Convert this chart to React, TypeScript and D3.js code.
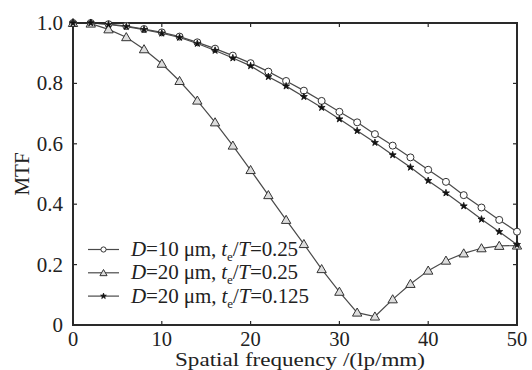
import React from 'react';
import * as d3 from 'd3';

const freq = [0, 2, 4, 6, 8, 10, 12, 14, 16, 18, 20, 22, 24, 26, 28, 30, 32, 34, 36, 38, 40, 42, 44, 46, 48, 50];

const mtfD10 = [1.0, 1.0, 0.996, 0.99, 0.98, 0.969, 0.955, 0.936, 0.915, 0.892, 0.867, 0.839, 0.808, 0.776, 0.742, 0.706, 0.671, 0.632, 0.594, 0.555, 0.514, 0.474, 0.43, 0.389, 0.348, 0.309];
const mtfD20 = [1.0, 0.998, 0.979, 0.953, 0.913, 0.865, 0.808, 0.743, 0.671, 0.594, 0.513, 0.43, 0.348, 0.268, 0.185, 0.11, 0.041, 0.028, 0.085, 0.136, 0.18, 0.213, 0.237, 0.254, 0.262, 0.263];
const mtfD20b = [1.0, 1.0, 0.995, 0.988, 0.978, 0.966, 0.952, 0.932, 0.909, 0.884, 0.858, 0.822, 0.791, 0.756, 0.72, 0.682, 0.643, 0.604, 0.563, 0.522, 0.478, 0.437, 0.394, 0.35, 0.309, 0.266];

const xTicks = [0, 10, 20, 30, 40, 50];
const yTicks = [0, 0.2, 0.4, 0.6, 0.8, 1.0];

const legendRows = [
  { d: '10', ratio: '0.25', marker: 'circle' },
  { d: '20', ratio: '0.25', marker: 'triangle' },
  { d: '20', ratio: '0.125', marker: 'star' },
];

const W = 532;
const H = 370;
const margin = { top: 23, right: 15, bottom: 45, left: 73 };
const FONT = "'Liberation Serif', Tinos, 'Times New Roman', Times, serif";
const LINE = '#4a4a4a';

const x = d3.scaleLinear().domain([0, 50]).range([margin.left, W - margin.right]);
const y = d3.scaleLinear().domain([0, 1]).range([H - margin.bottom, margin.top]);

const Marker = ({ kind, cx, cy, small }: { kind: string; cx: number; cy: number; small?: boolean }) => {
  if (kind === 'circle') {
    return <circle cx={cx} cy={cy} r={small ? 2.6 : 3.5} fill="white" stroke="#333" strokeWidth={1} />;
  }
  if (kind === 'triangle') {
    const p = d3.symbol(d3.symbolTriangle, small ? 22 : 38)();
    return <path d={p || ''} transform={`translate(${cx},${cy + 0.8})`} fill="#ddd" stroke="#333" strokeWidth={1} />;
  }
  const p = d3.symbol(d3.symbolStar, small ? 10 : 15)();
  return <path d={p || ''} transform={`translate(${cx},${cy})`} fill="#111" stroke="#111" strokeWidth={0.8} />;
};

const App = () => {
  const line = d3
    .line<number>()
    .x((_, i) => x(freq[i]))
    .y(d => y(d));

  const series = [
    { values: mtfD10, marker: 'circle' },
    { values: mtfD20, marker: 'triangle' },
    { values: mtfD20b, marker: 'star' },
  ];

  const [x0, x1] = x.range();
  const [y0, y1] = y.range();

  return (
    <svg width={W} height={H} style={{ position: 'absolute', left: 0, top: 0, background: 'white', fontFamily: FONT }}>
      {/* series lines */}
      {series.map((s, i) => (
        <path key={'l' + i} d={line(s.values) || ''} fill="none" stroke={LINE} strokeWidth={1.2} />
      ))}

      {/* frame and ticks */}
      <rect x={x0} y={y1} width={x1 - x0} height={y0 - y1} fill="none" stroke="#2a2a2a" strokeWidth={2} />
      {xTicks.map(t => (
        <g key={'xt' + t}>
          <line x1={x(t)} x2={x(t)} y1={y0} y2={y0 - 4} stroke="#2a2a2a" strokeWidth={1.2} />
          <line x1={x(t)} x2={x(t)} y1={y1} y2={y1 + 4} stroke="#2a2a2a" strokeWidth={1.2} />
          <text x={x(t)} y={y0 + 21} textAnchor="middle" fontSize={20.5} fill="#222">
            {t}
          </text>
        </g>
      ))}
      {yTicks.map(t => (
        <g key={'yt' + t}>
          <line x1={x0} x2={x0 + 4} y1={y(t)} y2={y(t)} stroke="#2a2a2a" strokeWidth={1.2} />
          <line x1={x1} x2={x1 - 4} y1={y(t)} y2={y(t)} stroke="#2a2a2a" strokeWidth={1.2} />
          <text x={x0 - 10} y={y(t) + 7} textAnchor="end" fontSize={21} fill="#222">
            {t === 0 ? '0' : t.toFixed(1)}
          </text>
        </g>
      ))}

      {/* markers */}
      {series.map((s, i) => (
        <g key={'m' + i}>
          {s.values.map((v, j) => (
            <Marker key={j} kind={s.marker} cx={x(freq[j])} cy={y(v)} />
          ))}
        </g>
      ))}

      {/* axis titles */}
      <text x={300} y={366} textAnchor="middle" fontSize={19.5} fill="#222" textLength={250} lengthAdjust="spacingAndGlyphs">
        Spatial frequency /(lp/mm)
      </text>
      <text transform={`translate(29,${(y0 + y1) / 2}) rotate(-90)`} textAnchor="middle" fontSize={21} fill="#222">
        MTF
      </text>

      {/* legend */}
      {legendRows.map((r, i) => {
        const ly = 249.5 + i * 23.3;
        return (
          <g key={'lg' + i}>
            <line x1={88} x2={119} y1={ly} y2={ly} stroke={LINE} strokeWidth={1.2} />
            <Marker kind={r.marker} cx={103.5} cy={ly} small />
            <text x={131} y={ly + 6.5} fontSize={21} fill="#222" textLength={r.ratio.length > 4 ? 178 : 167}>
              <tspan fontStyle="italic">D</tspan>
              {`=${r.d} \u03bcm, `}
              <tspan fontStyle="italic">t</tspan>
              <tspan fontSize={13} dy={5}>e</tspan>
              <tspan dy={-5}>/</tspan>
              <tspan fontStyle="italic">T</tspan>
              {`=${r.ratio}`}
            </text>
          </g>
        );
      })}
    </svg>
  );
};

export default App;
